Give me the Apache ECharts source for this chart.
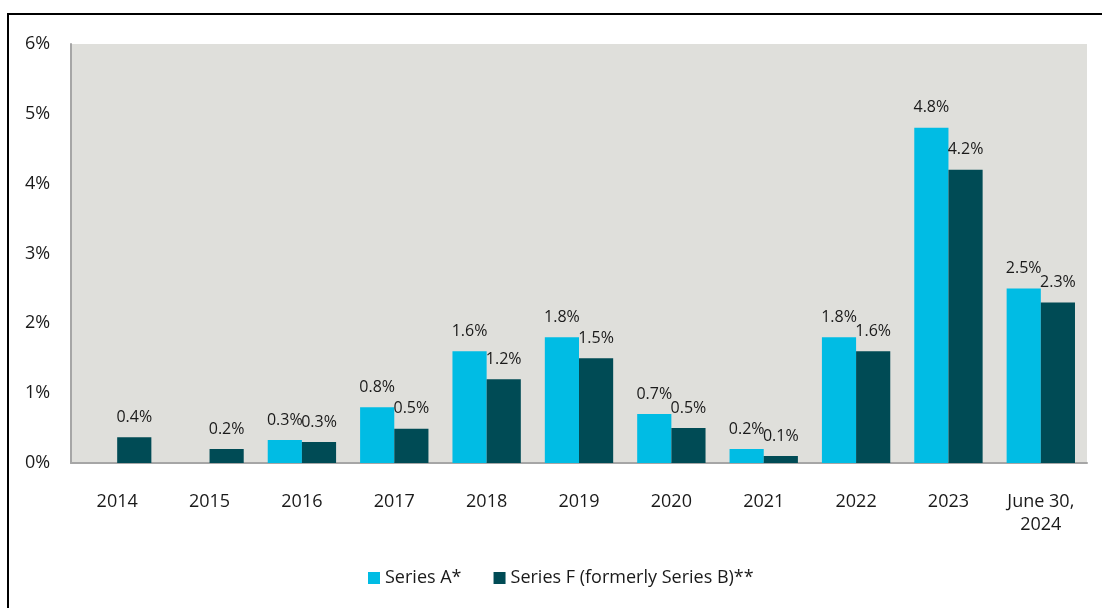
<!DOCTYPE html>
<html>
<head>
<meta charset="utf-8">
<script src="https://cdn.jsdelivr.net/npm/echarts@6/dist/echarts.min.js"></script>
<style>
html, body { margin: 0; padding: 0; background: #fff; }
#chart { width: 1102px; height: 608px; }
</style>
</head>
<body>
<div id="chart"></div>
<script>
var categories = ["2014", "2015", "2016", "2017", "2018", "2019", "2020", "2021", "2022", "2023", "June 30,\n2024"];
var seriesA = [null, null, 0.33, 0.8, 1.6, 1.8, 0.7, 0.2, 1.8, 4.8, 2.5];
var seriesF = [0.37, 0.2, 0.3, 0.49, 1.2, 1.5, 0.5, 0.1, 1.6, 4.2, 2.3];
var seriesNames = ["Series A*", "Series F (formerly Series B)**"];
var yTicks = [0, 1, 2, 3, 4, 5, 6];

var font = "'Open Sans', 'Noto Sans', sans-serif";
var axisColor = "#a6a6a6";
var textColor = "#1a1a1a";

var barLabel = {
    show: true,
    position: "top",
    distance: 12,
    color: textColor,
    fontSize: 16,
    fontFamily: font,
    formatter: function (p) {
        return p.value == null ? "" : p.value.toFixed(1) + "%";
    }
};

var option = {
    animation: false,
    backgroundColor: "#fff",
    textStyle: {fontFamily: font},
    color: ["#00bce4", "#004b55"],
    graphic: [{
        type: "rect",
        shape: {x: 8, y: 14, width: 1300, height: 800},
        style: {fill: "none", stroke: "#000", lineWidth: 2}
    }],
    grid: {
        left: 71,
        right: 15,
        top: 44,
        bottom: 145,
        show: true,
        backgroundColor: "#dfdfdb",
        borderWidth: 0
    },
    legend: {
        bottom: 16,
        left: 363,
        itemWidth: 12,
        itemHeight: 12,
        itemGap: 32,
        icon: "rect",
        textStyle: {fontSize: 18, color: textColor, fontFamily: font},
        data: seriesNames
    },
    xAxis: {
        type: "category",
        data: categories,
        axisTick: {show: false},
        axisLine: {lineStyle: {color: axisColor, width: 2}},
        axisLabel: {
            margin: 27,
            fontSize: 18,
            color: textColor,
            fontFamily: font,
            lineHeight: 23,
            interval: 0
        }
    },
    yAxis: {
        type: "value",
        min: yTicks[0],
        max: yTicks[yTicks.length - 1],
        interval: 1,
        splitLine: {show: false},
        axisTick: {show: false},
        axisLine: {show: true, lineStyle: {color: axisColor, width: 2}},
        axisLabel: {
            align: "left",
            margin: 46,
            fontSize: 18,
            color: textColor,
            fontFamily: font,
            formatter: function (v) { return v + "%"; }
        }
    },
    series: [
        {
            name: seriesNames[0],
            type: "bar",
            data: seriesA,
            barGap: "0%",
            barCategoryGap: "26%",
            label: barLabel
        },
        {
            name: seriesNames[1],
            type: "bar",
            data: seriesF,
            label: barLabel
        }
    ]
};

var chart = echarts.init(document.getElementById("chart"));
chart.setOption(option);
</script>
</body>
</html>
